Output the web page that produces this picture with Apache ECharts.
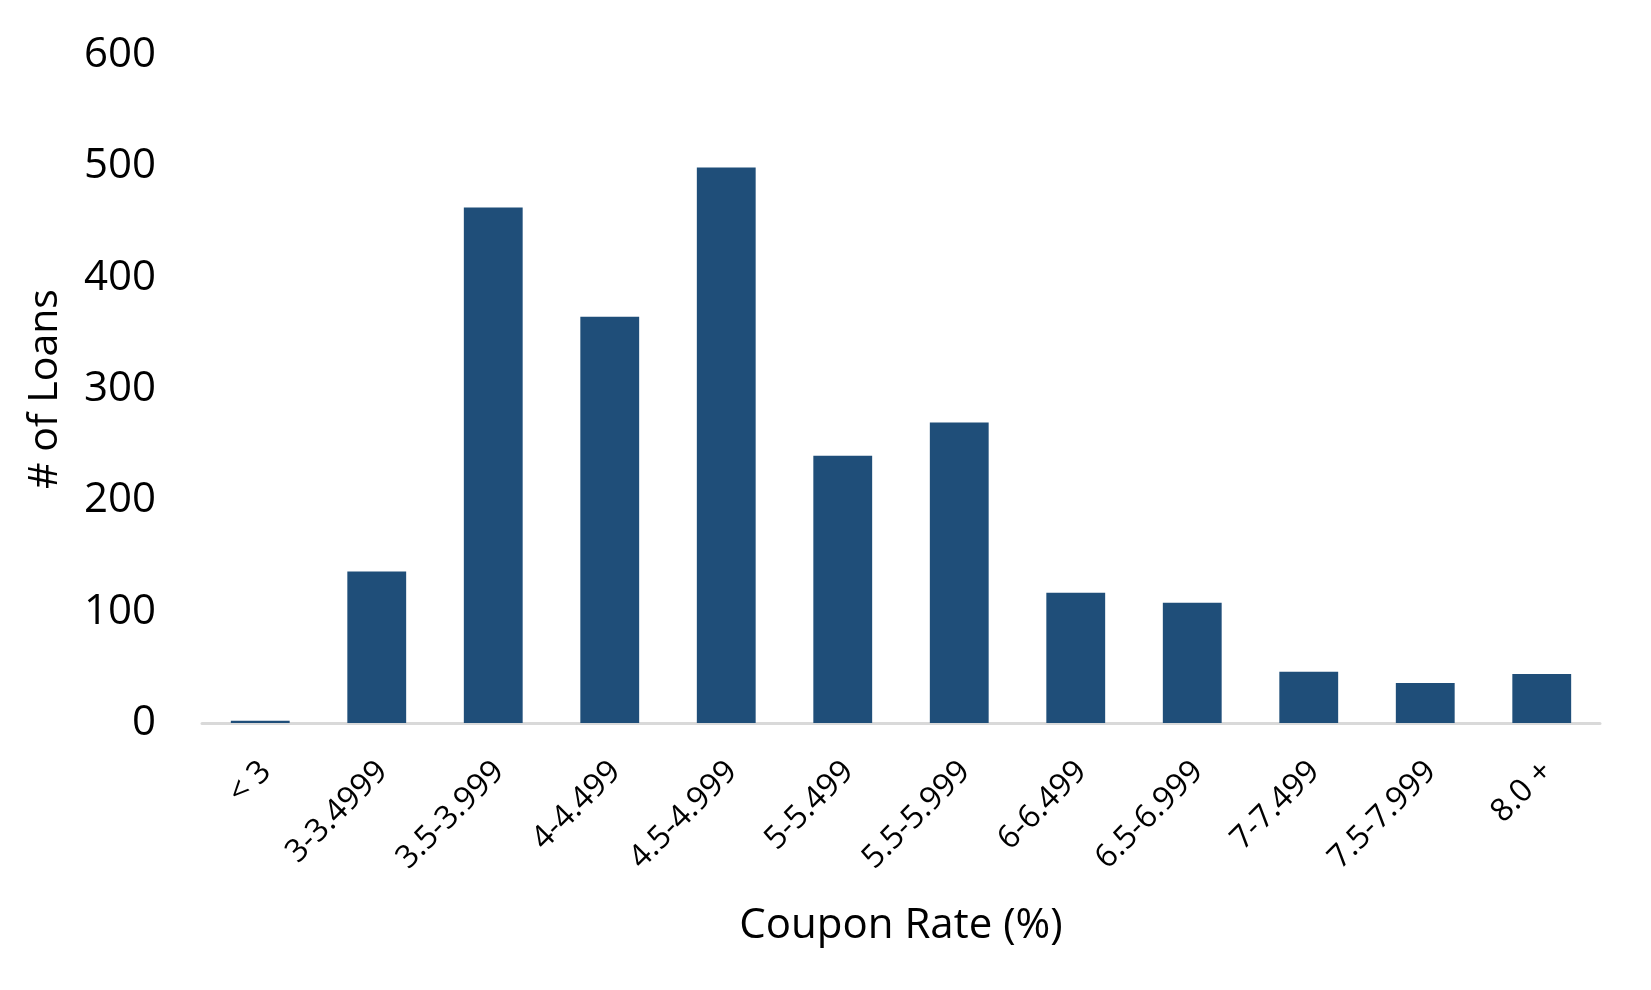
<!DOCTYPE html>
<html>
<head>
<meta charset="utf-8">
<script src="https://cdn.jsdelivr.net/npm/echarts@6/dist/echarts.min.js"></script>
<style>
html,body{margin:0;padding:0;background:#fff;}
#chart{width:1651px;height:990px;}
</style>
</head>
<body>
<div id="chart"></div>
<script>
const categories = ['< 3','3-3.4999','3.5-3.999','4-4.499','4.5-4.999','5-5.499','5.5-5.999','6-6.499','6.5-6.999','7-7.499','7.5-7.999','8.0 +'];
const loans = [2,136,463,365,499,240,270,117,108,46,36,44];
const yTicks = {min:0, max:600, interval:100};
const xTitle = 'Coupon Rate (%)';
const yTitle = '# of Loans';

const FONT = '"Open Sans", "Noto Sans", sans-serif';
const chart = echarts.init(document.getElementById('chart'));
chart.setOption({
  animation:false,
  backgroundColor:'#ffffff',
  grid:{left:202, right:51, top:55, bottom:267, containLabel:false, outerBoundsMode:'none'},
  xAxis:{
    type:'category',
    data:categories,
    name:xTitle,
    nameLocation:'middle',
    nameGap:182,
    nameTextStyle:{fontFamily:FONT, fontSize:42, color:'#000'},
    axisLine:{show:true, lineStyle:{color:'#d9d9d9', width:3}},
    axisTick:{show:false},
    axisLabel:{rotate:45, interval:0, margin:38, fontFamily:FONT, fontSize:32, color:'#000',
               verticalAlign:'top', lineHeight:16}
  },
  yAxis:{
    type:'value',
    min:yTicks.min, max:yTicks.max, interval:yTicks.interval,
    name:yTitle,
    nameLocation:'middle',
    nameGap:136,
    nameRotate:90,
    nameTextStyle:{fontFamily:FONT, fontSize:41, color:'#000'},
    axisLine:{show:false},
    axisTick:{show:false},
    splitLine:{show:false},
    axisLabel:{margin:46, fontFamily:FONT, fontSize:42, color:'#000'}
  },
  series:[{
    type:'bar',
    data:loans,
    barWidth:'50.5%',
    itemStyle:{color:'#1F4E79'}
  }]
});
</script>
</body>
</html>
